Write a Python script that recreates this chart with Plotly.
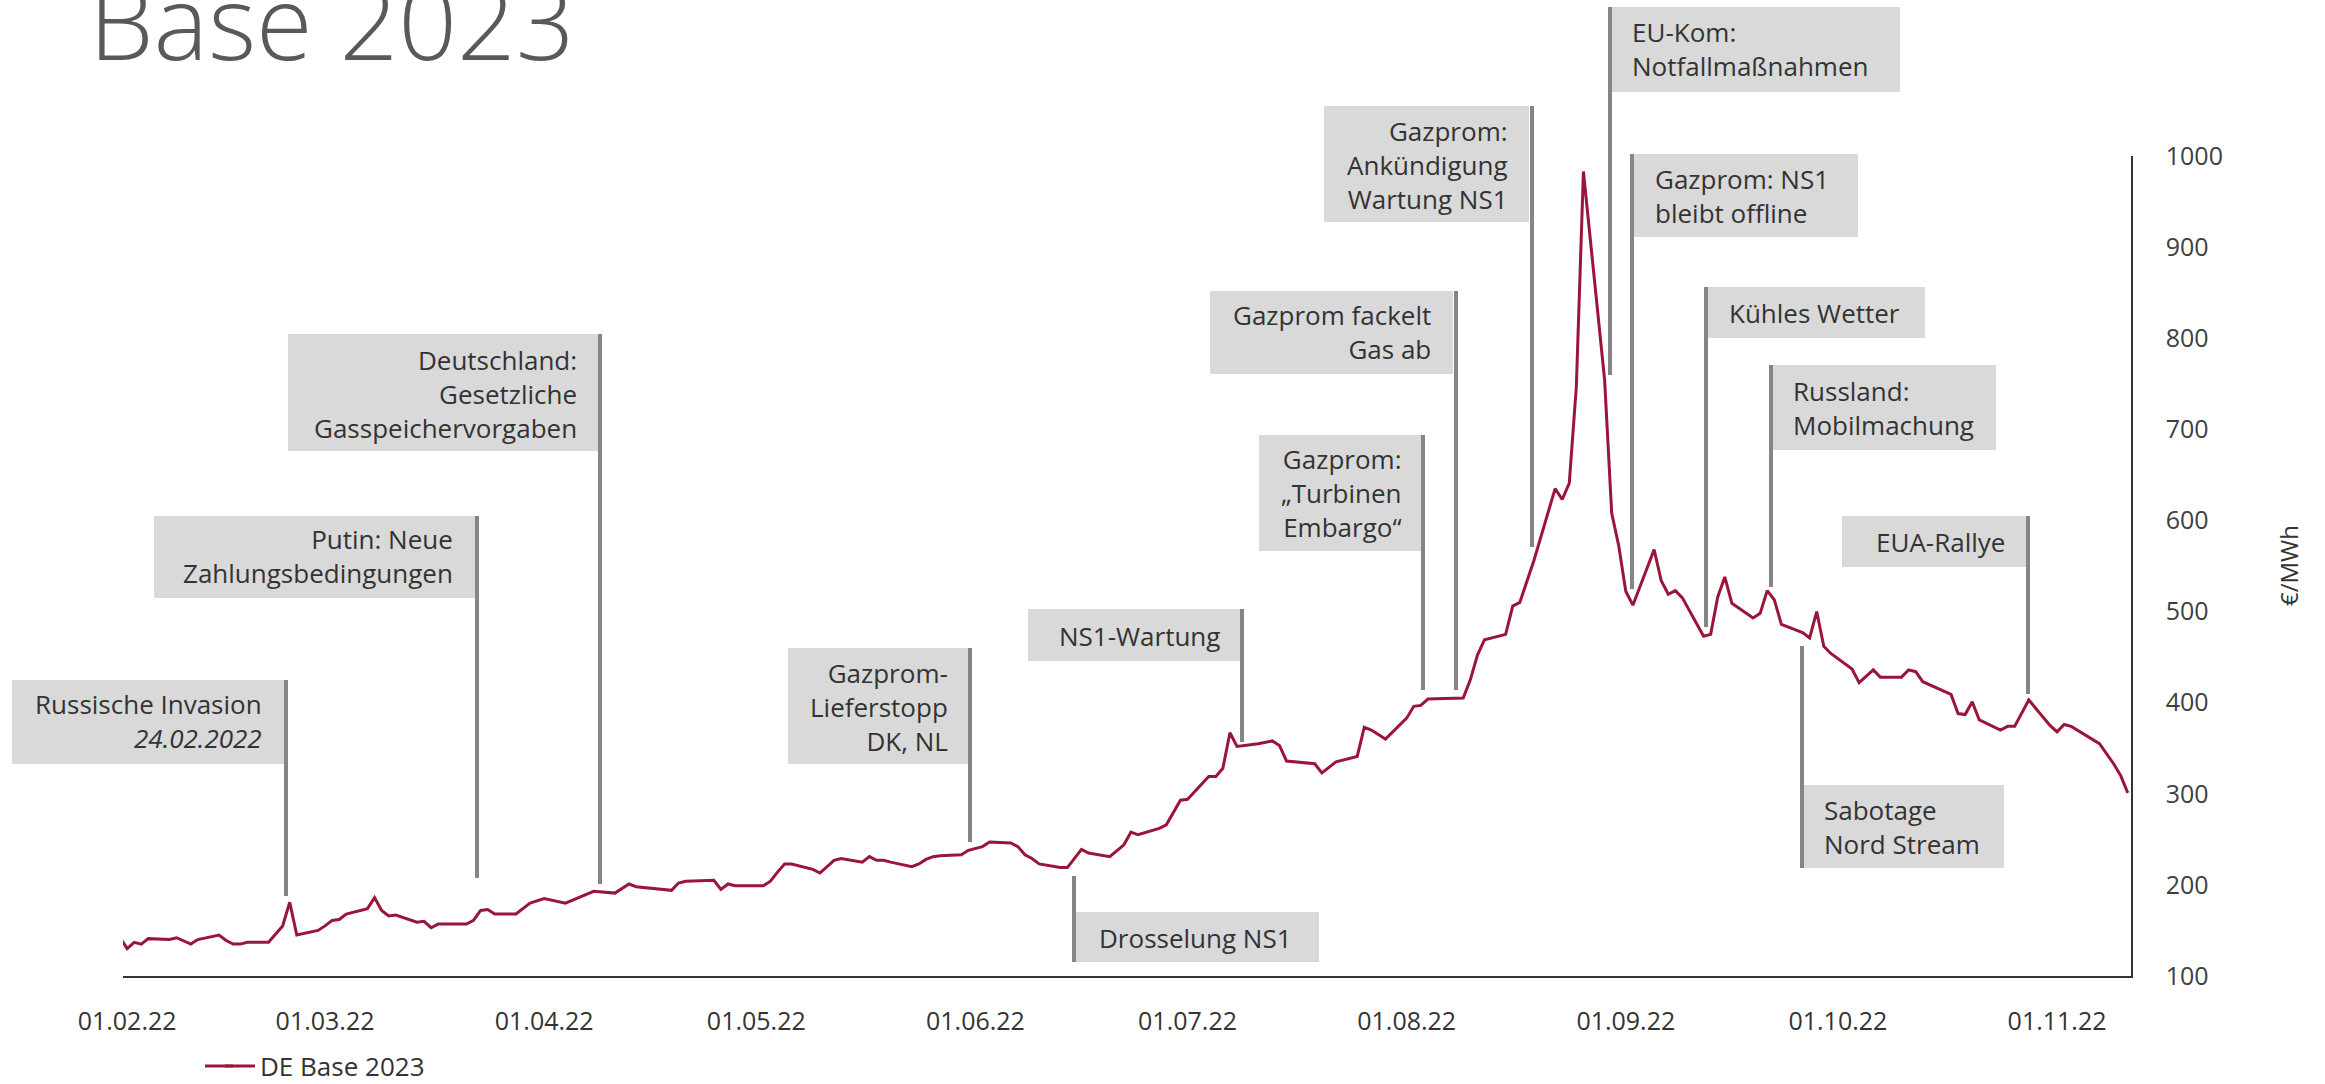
import plotly.graph_objects as go

# ---------------- data ----------------
dates = [
    "2022-01-31", "2022-02-01", "2022-02-02", "2022-02-03", "2022-02-04", "2022-02-07", "2022-02-08",
    "2022-02-10", "2022-02-11", "2022-02-14", "2022-02-15", "2022-02-16", "2022-02-17", "2022-02-18",
    "2022-02-21", "2022-02-23", "2022-02-24", "2022-02-25", "2022-02-28", "2022-03-01", "2022-03-02",
    "2022-03-03", "2022-03-04", "2022-03-07", "2022-03-08", "2022-03-09", "2022-03-10", "2022-03-11",
    "2022-03-14", "2022-03-15", "2022-03-16", "2022-03-17", "2022-03-21", "2022-03-22", "2022-03-23",
    "2022-03-24", "2022-03-25", "2022-03-28", "2022-03-30", "2022-04-01", "2022-04-04", "2022-04-07",
    "2022-04-08", "2022-04-11", "2022-04-13", "2022-04-14", "2022-04-19", "2022-04-20", "2022-04-21",
    "2022-04-25", "2022-04-26", "2022-04-27", "2022-04-28", "2022-05-02", "2022-05-03", "2022-05-04",
    "2022-05-05", "2022-05-06", "2022-05-09", "2022-05-10", "2022-05-12", "2022-05-13", "2022-05-16",
    "2022-05-17", "2022-05-18", "2022-05-19", "2022-05-20", "2022-05-23", "2022-05-24", "2022-05-25",
    "2022-05-26", "2022-05-27", "2022-05-30", "2022-05-31", "2022-06-02", "2022-06-03", "2022-06-06",
    "2022-06-07", "2022-06-08", "2022-06-09", "2022-06-10", "2022-06-13", "2022-06-14", "2022-06-16",
    "2022-06-17", "2022-06-20", "2022-06-22", "2022-06-23", "2022-06-24", "2022-06-27", "2022-06-28",
    "2022-06-30", "2022-07-01", "2022-07-04", "2022-07-05", "2022-07-06", "2022-07-07", "2022-07-08",
    "2022-07-11", "2022-07-13", "2022-07-14", "2022-07-15", "2022-07-19", "2022-07-20", "2022-07-22",
    "2022-07-25", "2022-07-26", "2022-07-27", "2022-07-29", "2022-08-01", "2022-08-02", "2022-08-03",
    "2022-08-04", "2022-08-09", "2022-08-10", "2022-08-11", "2022-08-12", "2022-08-15", "2022-08-16",
    "2022-08-17", "2022-08-19", "2022-08-22", "2022-08-23", "2022-08-24", "2022-08-25", "2022-08-26",
    "2022-08-29", "2022-08-30", "2022-08-31", "2022-09-01", "2022-09-02", "2022-09-05", "2022-09-06",
    "2022-09-07", "2022-09-08", "2022-09-09", "2022-09-12", "2022-09-13", "2022-09-14", "2022-09-15",
    "2022-09-16", "2022-09-19", "2022-09-20", "2022-09-21", "2022-09-22", "2022-09-23", "2022-09-26",
    "2022-09-27", "2022-09-28", "2022-09-29", "2022-09-30", "2022-10-03", "2022-10-04", "2022-10-06",
    "2022-10-07", "2022-10-10", "2022-10-11", "2022-10-12", "2022-10-13", "2022-10-17", "2022-10-18",
    "2022-10-19", "2022-10-20", "2022-10-21", "2022-10-24", "2022-10-25", "2022-10-26", "2022-10-28",
    "2022-10-31", "2022-11-01", "2022-11-02", "2022-11-03", "2022-11-07", "2022-11-09", "2022-11-10",
    "2022-11-11",
]
de_base_2023 = [
    142, 130, 137, 135, 141, 140, 142,
    135, 140, 145, 139, 135, 135, 137,
    137, 155, 181, 145, 150, 155, 161,
    162, 168, 174, 186, 172, 166, 167,
    159, 160, 153, 157, 157, 161, 172,
    173, 168, 168, 180, 185, 180, 190,
    193, 191, 201, 198, 194, 202, 204,
    205, 195, 201, 199, 199, 204, 214,
    223, 223, 217, 213, 227, 229, 225,
    231, 227, 227, 225, 220, 223, 228,
    231, 232, 233, 238, 242, 247, 246,
    242, 233, 229, 223, 219, 219, 239,
    235, 231, 244, 258, 255, 262, 266,
    293, 294, 319, 319, 328, 367, 352,
    355, 358, 353, 336, 333, 323, 335,
    341, 373, 370, 360, 383, 396, 397,
    404, 405, 425, 452, 469, 475, 506,
    510, 556, 635, 623, 641, 747, 983,
    754, 608, 572, 522, 507, 568, 534,
    519, 523, 515, 473, 475, 516, 538,
    509, 493, 498, 523, 513, 486, 477,
    471, 500, 462, 454, 437, 422, 436,
    428, 428, 436, 434, 423, 409, 388,
    387, 401, 381, 370, 374, 374, 403,
    375, 368, 376, 374, 355, 333, 320,
    301,
]
series_name = "DE Base 2023"

tick_dates = ["2022-02-01", "2022-03-01", "2022-04-01", "2022-05-01", "2022-06-01",
              "2022-07-01", "2022-08-01", "2022-09-01", "2022-10-01", "2022-11-01"]
tick_labels = ["01.02.22", "01.03.22", "01.04.22", "01.05.22", "01.06.22",
               "01.07.22", "01.08.22", "01.09.22", "01.10.22", "01.11.22"]
y_ticks = [100, 200, 300, 400, 500, 600, 700, 800, 900, 1000]

event_texts = [
    "Russische Invasion<br><i>24.02.2022</i>",
    "Putin: Neue<br>Zahlungsbedingungen",
    "Deutschland:<br>Gesetzliche<br>Gasspeichervorgaben",
    "Gazprom-<br>Lieferstopp<br>DK, NL",
    "NS1-Wartung",
    "Drosselung NS1",
    "Gazprom:<br>„Turbinen<br>Embargo“",
    "Gazprom fackelt<br>Gas ab",
    "Gazprom:<br>Ankündigung<br>Wartung NS1",
    "EU-Kom:<br>Notfallmaßnahmen",
    "Gazprom: NS1<br>bleibt offline",
    "Kühles Wetter",
    "Russland:<br>Mobilmachung",
    "EUA-Rallye",
    "Sabotage<br>Nord Stream",
]

# ---------------- layout geometry (pixels on the 2325x1084 page) ----------------
W_PAGE, H_PAGE = 2325, 1084
PLOT_L, PLOT_R, PLOT_T, PLOT_B = 123, 2131, 156, 976

# box (x0, y0, x1, y1), connector (x, ytop, ybottom), text side, text x, text center y
event_layout = [
    ((12, 680, 284, 764), (286, 680, 896), "right", 264, 721),
    ((154, 516, 475, 598), (477, 516, 878), "right", 455, 556),
    ((288, 334, 598, 451), (600, 334, 884), "right", 579, 394),
    ((788, 648, 968, 764), (970, 648, 842), "right", 950, 707),
    ((1028, 609, 1240, 661), (1242, 609, 742), "right", 1222, 636),
    ((1076, 912, 1319, 962), (1074, 876, 962), "left", 1097, 938),
    ((1259, 435, 1422, 551), (1423, 435, 690), "right", 1403, 493),
    ((1210, 291, 1453, 374), (1456, 291, 690), "right", 1433, 332),
    ((1324, 106, 1529, 222), (1532, 106, 547), "right", 1510, 165),
    ((1611, 7, 1900, 92), (1610, 7, 375), "left", 1630, 49),
    ((1632, 154, 1858, 237), (1632, 154, 589), "left", 1653, 196),
    ((1705, 287, 1925, 338), (1706, 287, 627), "left", 1727, 313),
    ((1770, 365, 1996, 450), (1771, 365, 587), "left", 1791, 408),
    ((1842, 516, 2026, 567), (2028, 516, 694), "right", 2007, 542),
    ((1802, 785, 2004, 868), (1802, 646, 868), "left", 1822, 827),
]

LEGEND_Y = 1066          # legend row centre (px from top)
LEGEND_TEXT_X = 261      # where the legend label starts
LEGEND_LINE_X0 = 205     # where the legend line sample starts


def px(x):
    return (x - PLOT_L) / (PLOT_R - PLOT_L)


def py(y):
    return (PLOT_B - y) / (PLOT_B - PLOT_T)


FONT = "Open Sans, Noto Sans, sans-serif"
TEXT_COLOR = "#333333"
LINE_COLOR = "#9b1539"
EVENT_FONT_SIZE = 26

fig = go.Figure()
fig.add_trace(go.Scatter(
    x=dates, y=de_base_2023, mode="lines", name=series_name,
    line=dict(color=LINE_COLOR, width=3), showlegend=True,
))

shapes = []
annotations = []
for text, (box, conn, side, tx, ty) in zip(event_texts, event_layout):
    x0, y0, x1, y1 = box
    shapes.append(dict(type="rect", xref="paper", yref="paper",
                       x0=px(x0), x1=px(x1), y0=py(y1), y1=py(y0),
                       fillcolor="#d9d9d9", line=dict(width=0), layer="below"))
    cx, cy0, cy1 = conn
    shapes.append(dict(type="line", xref="paper", yref="paper",
                       x0=px(cx), x1=px(cx), y0=py(cy1), y1=py(cy0),
                       line=dict(color="#858585", width=4), layer="below"))
    annotations.append(dict(text=text, xref="paper", yref="paper",
                            x=px(tx), y=py(ty), xanchor=side, yanchor="middle",
                            align=side, showarrow=False,
                            font=dict(family=FONT, size=EVENT_FONT_SIZE, color=TEXT_COLOR)))

# longer legend line sample (Plotly's own sample is only 30 px long)
shapes.append(dict(type="line", xref="paper", yref="paper",
                   x0=px(LEGEND_LINE_X0), x1=px(LEGEND_TEXT_X - 28),
                   y0=py(LEGEND_Y), y1=py(LEGEND_Y),
                   line=dict(color=LINE_COLOR, width=3)))

# title (partly cut at top, as in the original)
annotations.append(dict(text="Base 2023", xref="paper", yref="paper",
                        x=px(87), y=py(92), xanchor="left", yanchor="bottom",
                        showarrow=False,
                        font=dict(family=FONT, size=103, color="#595959", weight=300)))
# unit label
annotations.append(dict(text="€/MWh", xref="paper", yref="paper",
                        x=px(2288), y=py(566), xanchor="center", yanchor="middle",
                        textangle=-90, showarrow=False,
                        font=dict(family=FONT, size=24, color=TEXT_COLOR)))

fig.update_layout(
    width=W_PAGE, height=H_PAGE,
    margin=dict(l=PLOT_L, r=W_PAGE - PLOT_R, t=PLOT_T, b=H_PAGE - PLOT_B, pad=0,
                autoexpand=False),
    paper_bgcolor="white", plot_bgcolor="white",
    font=dict(family=FONT, size=24, color=TEXT_COLOR),
    shapes=shapes, annotations=annotations,
    showlegend=True,
    legend=dict(orientation="h", xref="container", yref="container",
                x=(LEGEND_TEXT_X - 41) / W_PAGE, y=(H_PAGE - LEGEND_Y) / H_PAGE,
                xanchor="left", yanchor="middle",
                font=dict(family=FONT, size=26, color=TEXT_COLOR),
                bgcolor="rgba(0,0,0,0)", borderwidth=0),
    xaxis=dict(type="date", range=["2022-01-31 10:00", "2022-11-11 11:00"],
               tickvals=tick_dates, ticktext=tick_labels, automargin=False,
               showgrid=False, zeroline=False, showline=True,
               linecolor="#333333", linewidth=1.5, ticks="",
               ticklabelstandoff=22,
               tickfont=dict(family=FONT, size=25, color=TEXT_COLOR)),
    yaxis=dict(range=[100, 1000], side="right", tickvals=y_ticks, automargin=False,
               showgrid=False, zeroline=False, showline=True,
               linecolor="#333333", linewidth=1.5, ticks="",
               ticklabelstandoff=28,
               tickfont=dict(family=FONT, size=25, color="#404040")),
)

fig.write_html(
    "out.html",
    config={"displayModeBar": False},
    post_script="document.body.style.margin='0px';document.body.style.overflow='hidden';",
)
